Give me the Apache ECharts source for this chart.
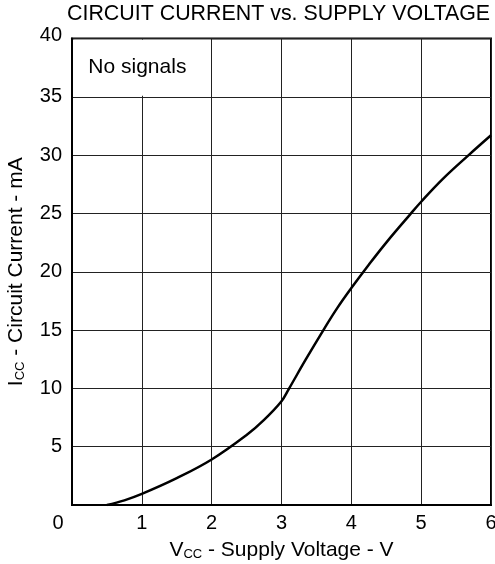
<!DOCTYPE html>
<html>
<head>
<meta charset="utf-8">
<script src="https://cdn.jsdelivr.net/npm/echarts@6/dist/echarts.min.js"></script>
<style>
html,body{margin:0;padding:0;background:#fff;}
#chart{width:495px;height:564px;}
</style>
</head>
<body>
<div id="chart"></div>
<script>
// Data
var supplyVoltage = [0.5, 0.75, 1.0, 1.5, 2.0, 2.5, 2.75, 3.0, 3.1, 3.35, 3.6, 3.8, 4.0, 4.25, 4.5, 4.84, 5.0, 5.3, 5.68, 6.0];
var circuitCurrent = [0, 0.4, 0.95, 2.3, 3.9, 6.0, 7.3, 8.9, 9.9, 12.5, 15.0, 16.9, 18.6, 20.6, 22.5, 24.9, 26.0, 27.9, 30.0, 31.7];
var xTicks = [0, 1, 2, 3, 4, 5, 6];
var yTicks = [0, 5, 10, 15, 20, 25, 30, 35, 40];
var titleText = 'CIRCUIT CURRENT vs. SUPPLY VOLTAGE';
var noteText = 'No signals';

var FONT = '"Liberation Sans", Arial, sans-serif';
var points = supplyVoltage.map(function (v, i) { return [v, circuitCurrent[i]]; });

var chart = echarts.init(document.getElementById('chart'), null, {renderer: 'canvas'});
chart.setOption({
  animation: false,
  backgroundColor: '#fff',
  title: {
    text: titleText,
    left: 67,
    top: 4,
    padding: 0,
    textStyle: {fontFamily: FONT, fontSize: 21.4, fontWeight: 'normal', color: '#000'}
  },
  grid: {
    left: 72, right: 4, top: 38.5, bottom: 59,
    outerBoundsMode: 'none',
    containLabel: false,
    show: true, borderColor: '#000', borderWidth: 2, backgroundColor: '#fff'
  },
  xAxis: {
    type: 'value', min: xTicks[0], max: xTicks[xTicks.length - 1], interval: 1,
    axisLine: {show: true, lineStyle: {color: '#000', width: 2}},
    axisTick: {show: false},
    splitLine: {show: true, lineStyle: {color: '#222', width: 1}},
    axisLabel: {
      margin: 8, fontFamily: FONT, fontSize: 20, color: '#000',
      showMaxLabel: true, showMinLabel: true, hideOverlap: false,
      formatter: function (v) { return v === 0 ? '{z|0}' : String(v); },
      rich: {z: {fontFamily: FONT, fontSize: 20, color: '#000', padding: [0, 28, 0, 0]}}
    },
    name: '{m|V}{s|CC}{m| - Supply Voltage - V}',
    nameLocation: 'middle',
    nameGap: 32,
    nameTextStyle: {
      fontFamily: FONT, fontSize: 21, color: '#000',
      rich: {
        m: {fontFamily: FONT, fontSize: 21, color: '#000', lineHeight: 24, verticalAlign: 'bottom'},
        s: {fontFamily: FONT, fontSize: 13, color: '#000', lineHeight: 19, verticalAlign: 'bottom'}
      }
    }
  },
  yAxis: {
    type: 'value', min: yTicks[0], max: yTicks[yTicks.length - 1], interval: 5,
    axisLine: {show: true, lineStyle: {color: '#000', width: 2}},
    axisTick: {show: false},
    splitLine: {show: true, lineStyle: {color: '#222', width: 1}},
    axisLabel: {
      margin: 10, fontFamily: FONT, fontSize: 20, color: '#000',
      formatter: function (v) { return v === 0 ? '' : (v === 40 ? '{t|40}' : String(v)); },
      rich: {t: {fontFamily: FONT, fontSize: 20, color: '#000', padding: [0, 0, 7, 0]}}
    },
    name: '{m|I}{s|CC}{m| - Circuit Current - mA}',
    nameLocation: 'middle',
    nameGap: 45,
    nameRotate: 90,
    nameTextStyle: {
      fontFamily: FONT, fontSize: 21, color: '#000',
      rich: {
        m: {fontFamily: FONT, fontSize: 21, color: '#000', lineHeight: 24, verticalAlign: 'bottom'},
        s: {fontFamily: FONT, fontSize: 13, color: '#000', lineHeight: 19, verticalAlign: 'bottom'}
      }
    }
  },
  series: [{
    type: 'line',
    data: points,
    showSymbol: false,
    smooth: 0.4,
    lineStyle: {color: '#000', width: 2.5},
    markArea: {
      silent: true,
      itemStyle: {color: '#fff'},
      label: {
        show: true, position: 'inside', offset: [-5, 0],
        fontFamily: FONT, fontSize: 21, color: '#000'
      },
      data: [[{name: noteText, coord: [0.03, 35.1]}, {coord: [1.985, 39.9]}]]
    }
  }]
});
</script>
</body>
</html>
